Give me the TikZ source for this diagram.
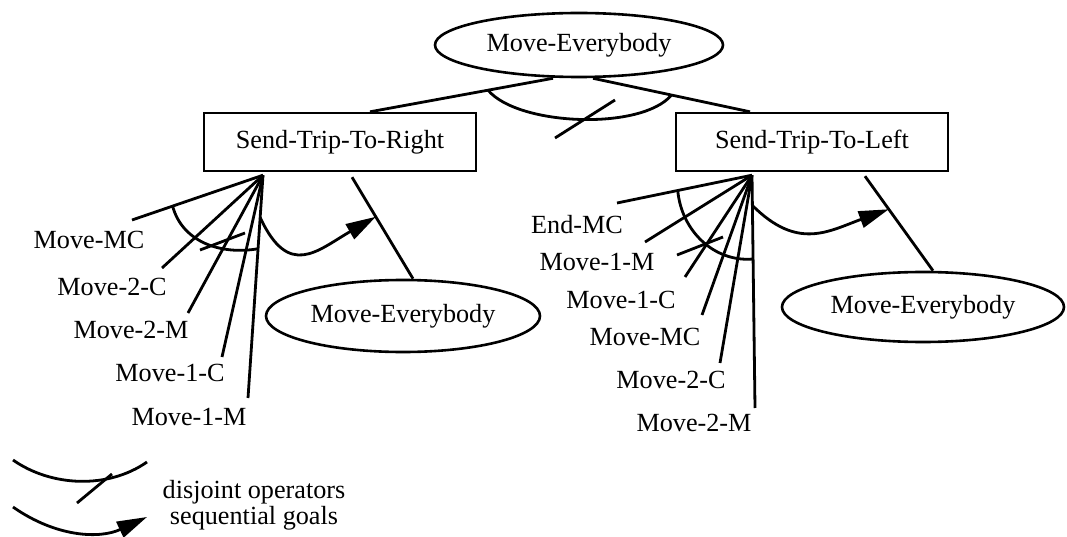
\documentclass[tikz,border=0pt]{standalone}
\usepackage{fontspec}
\setmainfont{Liberation Serif}
\usetikzlibrary{shapes.geometric, arrows.meta}
\tikzset{
	goal/.style={draw, ellipse, line width=2.6pt, minimum width=280pt, minimum height=70pt, inner sep=2pt},
	operator/.style={draw, rectangle, line width=2.4pt, minimum width=272pt, minimum height=58pt},
	leaf/.style={inner sep=0pt},
	branchline/.style={line width=2.8pt},
	seqarrow/.style={-{Triangle[length=30pt, width=17pt]}}
}
\newcommand{\goalEllipse}[5][]{
	\path (#2,#3) node[goal, #1](#4){#5};
}
\newcommand{\operatorBox}[5][]{
	\path (#2,#3) node[operator, #1](#4){#5};
}
\newcommand{\operatorLeaf}[6]{
	\path (#1,#2) node[leaf](#3){#4};
	\coordinate (#3-tip) at (#5,#6);
}
\newcommand{\branch}[3][]{
	\draw[branchline, #1] (#2) -- (#3);
}
\newcommand{\branchCurved}[5][]{
	\draw[branchline, #1] (#2) to[out=#4, in=#5] (#3);
}
\newcommand{\pointOn}[4]{
	\path (#1) -- (#2) coordinate[pos=#3] (#4);
}

\begin{document}
\begin{tikzpicture}[x=1pt, y=1pt, font=\fontsize{26.2}{31}\selectfont]
	\useasboundingbox (0,0) rectangle (1067,536);

	\goalEllipse[minimum width=288pt, minimum height=64pt]{579}{491}{me}{Move-Everybody};
	\operatorBox{340}{394}{sendRight}{Send-Trip-To-Right};
	\operatorBox{812}{394}{sendLeft}{Send-Trip-To-Left};
	\goalEllipse[minimum width=274pt, minimum height=72pt]{403}{220}{meRight}{Move-Everybody};
	\goalEllipse[minimum width=282pt]{923}{229}{meLeft}{Move-Everybody};

	\coordinate (meSouthL) at ([xshift=-26pt]me.south);
	\coordinate (meSouthR) at ([xshift=14pt]me.south);
	\coordinate (sendRightTop) at ([xshift=30pt]sendRight.north);
	\coordinate (sendLeftTop) at ([xshift=-62pt]sendLeft.north);
	\coordinate (fanRight) at ([xshift=-77pt, yshift=-3pt]sendRight.south);
	\coordinate (fanLeft) at ([xshift=-60pt, yshift=-3pt]sendLeft.south);
	\coordinate (sendRightFoot) at ([xshift=12pt, yshift=-5pt]sendRight.south);
	\coordinate (sendLeftFoot) at ([xshift=53pt, yshift=-4pt]sendLeft.south);
	\coordinate (meRightTop) at ([xshift=10pt]meRight.north);
	\coordinate (meLeftTop) at ([xshift=10pt]meLeft.north);

	\operatorLeaf{89}{296}{mmcR}{Move-MC}{132}{316};
	\operatorLeaf{112}{249}{m2cR}{Move-2-C}{162}{268};
	\operatorLeaf{131}{206}{m2mR}{Move-2-M}{188}{223};
	\operatorLeaf{170}{163}{m1cR}{Move-1-C}{222}{179};
	\operatorLeaf{189}{119}{m1mR}{Move-1-M}{248}{138};

	\operatorLeaf{577}{311}{emcL}{End-MC}{617}{333};
	\operatorLeaf{597}{274}{m1mL}{Move-1-M}{645}{294};
	\operatorLeaf{621}{236}{m1cL}{Move-1-C}{685}{259};
	\operatorLeaf{645}{199}{mmcL}{Move-MC}{702}{221};
	\operatorLeaf{671}{156}{m2cL}{Move-2-C}{720}{173};
	\operatorLeaf{694}{113}{m2mL}{Move-2-M}{755}{128};

	\branch{meSouthL}{sendRightTop};
	\branch{meSouthR}{sendLeftTop};
	\branch{sendRightFoot}{meRightTop};
	\branch{sendLeftFoot}{meLeftTop};

	\branch{fanRight}{mmcR-tip};
	\branch{fanRight}{m2cR-tip};
	\branch{fanRight}{m2mR-tip};
	\branch{fanRight}{m1cR-tip};
	\branch{fanRight}{m1mR-tip};

	\branch{fanLeft}{emcL-tip};
	\branch{fanLeft}{m1mL-tip};
	\branch{fanLeft}{m1cL-tip};
	\branch{fanLeft}{mmcL-tip};
	\branch{fanLeft}{m2cL-tip};
	\branch{fanLeft}{m2mL-tip};

	\pointOn{meSouthL}{sendRightTop}{0.355}{orTop1};
	\pointOn{meSouthR}{sendLeftTop}{0.5}{orTop2};
	\branchCurved[looseness=0.65]{orTop1}{orTop2}{-50}{-130};
	\branch{555,398}{615,436};

	\pointOn{fanRight}{mmcR-tip}{0.69}{orRight1};
	\pointOn{fanRight}{m1mR-tip}{0.33}{orRight2};
	\branchCurved{orRight1}{orRight2}{-75}{190};
	\branch{200,286}{245,303};
	\pointOn{fanRight}{m1mR-tip}{0.19}{seqRight1};
	\pointOn{sendRightFoot}{meRightTop}{0.39}{seqRight2};
	\branchCurved[seqarrow, looseness=1.5]{seqRight1}{seqRight2}{-65}{210};

	\pointOn{fanLeft}{emcL-tip}{0.55}{orLeft1};
	\pointOn{fanLeft}{m2mL-tip}{0.36}{orLeft2};
	\branchCurved{orLeft1}{orLeft2}{-85}{185};
	\branch{677,281}{723,299};
	\pointOn{fanLeft}{m2mL-tip}{0.13}{seqLeft1};
	\pointOn{sendLeftFoot}{meLeftTop}{0.35}{seqLeft2};
	\branchCurved[seqarrow, looseness=1.2]{seqLeft1}{seqLeft2}{-45}{200};

	\branchCurved[looseness=0.9]{13,76}{147,74}{-35}{-145};
	\branch{77,33}{112,62};
	\branchCurved[seqarrow]{13,29}{147,19}{-35}{205};
	\path (254,44) node[leaf](legendOr){disjoint operators};
	\path (254,18) node[leaf](legendSeq){sequential goals};
\end{tikzpicture}
\end{document}
